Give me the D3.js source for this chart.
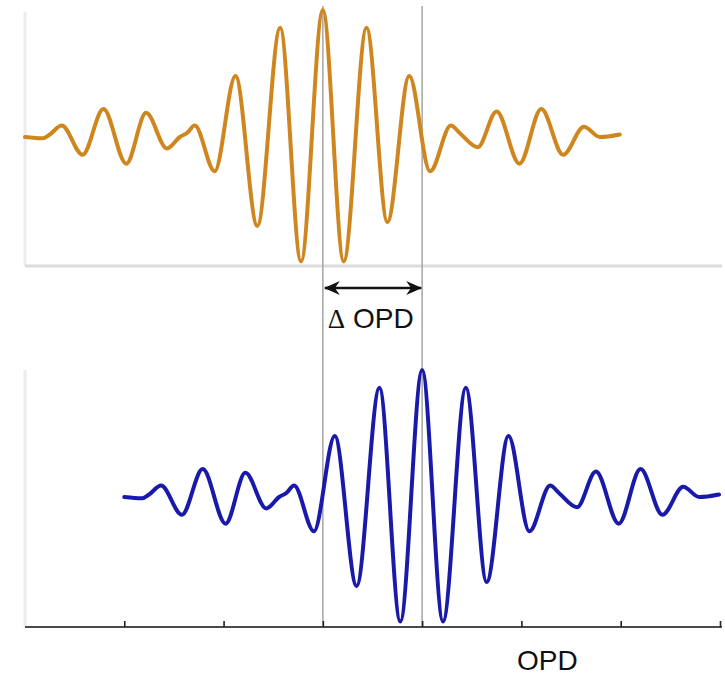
<!DOCTYPE html>
<html>
<head>
<meta charset="utf-8">
<script src="https://cdn.jsdelivr.net/npm/d3@7"></script>
<style>
  html, body { margin: 0; padding: 0; background: #fff; }
  svg { display: block; }
</style>
</head>
<body>
<svg id="chart" width="725" height="679"></svg>
<script>
// ---- data ----
// OPD position relative to the packet centre
const relOPD = [-3.00, -2.82, -2.75, -2.63, -2.42, -2.21, -1.98, -1.78, -1.57, -1.44, -1.37, -1.29,
                -1.09, -0.88, -0.66, -0.43, -0.22, 0.00, 0.21, 0.44, 0.65, 0.87, 1.08, 1.29, 1.38,
                1.56, 1.75, 1.98, 2.20, 2.42, 2.63, 2.79, 2.99];
// normalised intensity (reference interferogram, orange)
const refSignal = [0.00, -0.01, 0.02, 0.09, -0.14, 0.22, -0.21, 0.19, -0.09, 0.00, 0.03, 0.09,
                   -0.27, 0.48, -0.70, 0.86, -0.98, 1.00, -0.98, 0.86, -0.67, 0.48, -0.27, 0.09, 0.03,
                   -0.08, 0.20, -0.21, 0.22, -0.14, 0.08, 0.00, 0.02];
// normalised intensity (shifted interferogram, blue)
const shiftedSignal = [0.00, -0.01, 0.02, 0.09, -0.14, 0.22, -0.21, 0.19, -0.09, 0.00, 0.03, 0.09,
                       -0.27, 0.48, -0.70, 0.86, -0.98, 1.00, -0.98, 0.86, -0.67, 0.48, -0.27, 0.09, 0.03,
                       -0.08, 0.20, -0.21, 0.22, -0.14, 0.08, 0.00, 0.02];
const centres = [3, 4];           // packet centres (OPD)
const opdTicks = [1, 2, 3, 4, 5, 6, 7];
const opdDomain = [0, 7];
const xLabel = "OPD";
const deltaLabel = ["\u0394", " OPD"];

// ---- drawing ----
const svg = d3.select("#chart");
const x = d3.scaleLinear().domain(opdDomain).range([25, 720]);
const yTop = d3.scaleLinear().domain([-1, 1]).range([264, 10]);
const yBot = d3.scaleLinear().domain([-1, 1]).range([624, 370]);

// light panel frames
svg.append("line").attr("x1", x(0)).attr("x2", x(0)).attr("y1", 12).attr("y2", 266)
  .attr("stroke", "#ececec").attr("stroke-width", 3);
svg.append("line").attr("x1", x(0)).attr("x2", 722).attr("y1", 266).attr("y2", 266)
  .attr("stroke", "#dcdcdc").attr("stroke-width", 3);
svg.append("line").attr("x1", x(0)).attr("x2", x(0)).attr("y1", 370).attr("y2", 627)
  .attr("stroke", "#ececec").attr("stroke-width", 3);

// vertical guides at the two packet centres
svg.selectAll("line.guide").data(centres).join("line").attr("class", "guide")
  .attr("x1", d => x(d)).attr("x2", d => x(d))
  .attr("y1", 6).attr("y2", 627)
  .attr("stroke", "#aaaaaa").attr("stroke-width", 1.6);

// bottom axis
const axis = d3.axisBottom(x).tickValues(opdTicks).tickSize(-6).tickSizeOuter(0).tickFormat("");
const gAx = svg.append("g").attr("transform", "translate(0,627)").call(axis);
gAx.select(".domain").attr("stroke", "#4a4a4a").attr("stroke-width", 2)
  .attr("d", `M${x(0)},0H722`);
gAx.selectAll(".tick line").attr("stroke", "#222").attr("stroke-width", 1.6);

// curves
const line = (yScale, centre) => d3.line()
  .x((d, i) => x(centre + relOPD[i]))
  .y(d => yScale(d))
  .curve(d3.curveMonotoneX);

svg.append("path").datum(refSignal)
  .attr("d", line(yTop, centres[0]))
  .attr("fill", "none").attr("stroke", "#cf861f").attr("stroke-width", 4)
  .attr("stroke-linejoin", "round").attr("stroke-linecap", "round");

svg.append("path").datum(shiftedSignal)
  .attr("d", line(yBot, centres[1]))
  .attr("fill", "none").attr("stroke", "#1a1aaa").attr("stroke-width", 4)
  .attr("stroke-linejoin", "round").attr("stroke-linecap", "round");

// delta OPD arrow
const defs = svg.append("defs");
defs.append("marker").attr("id", "ah").attr("viewBox", "0 0 16 14")
  .attr("refX", 15).attr("refY", 7).attr("markerWidth", 16).attr("markerHeight", 14)
  .attr("markerUnits", "userSpaceOnUse").attr("orient", "auto-start-reverse")
  .append("path").attr("d", "M0,0 L16,7 L0,14 L5,7 Z").attr("fill", "#111");
svg.append("line")
  .attr("x1", x(centres[0]) + 2).attr("x2", x(centres[1]) - 1)
  .attr("y1", 288).attr("y2", 288)
  .attr("stroke", "#111").attr("stroke-width", 2.5)
  .attr("marker-start", "url(#ah)").attr("marker-end", "url(#ah)");

const dt = svg.append("text").attr("x", x(centres[0]) + 5).attr("y", 328)
  .attr("font-size", 28).attr("fill", "#111")
  .attr("font-family", "'Liberation Sans', Arial, sans-serif");
dt.append("tspan").attr("font-family", "'Liberation Serif', 'Times New Roman', serif")
  .attr("font-size", 27).text(deltaLabel[0]);
dt.append("tspan").text(deltaLabel[1]);

// x label
svg.append("text").attr("x", 517).attr("y", 670)
  .attr("font-size", 28).attr("fill", "#111")
  .attr("font-family", "'Liberation Sans', Arial, sans-serif")
  .text(xLabel);
</script>
</body>
</html>
